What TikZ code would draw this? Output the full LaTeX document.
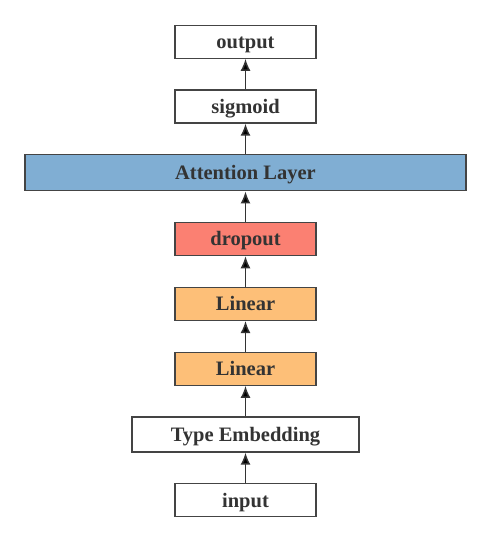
\documentclass[tikz,border=0pt]{standalone}
\usepackage{fontspec}
\setmainfont{Liberation Serif}
\usepackage{tikz}
\usetikzlibrary{matrix,arrows.meta}
\definecolor{txt}{HTML}{333333}
\definecolor{edgegray}{HTML}{444444}
\definecolor{attblue}{HTML}{80AED3}
\definecolor{dropred}{HTML}{FB8072}
\definecolor{linorange}{HTML}{FDBF78}

\begin{document}
\begin{tikzpicture}[x=1pt,y=-1pt,
  layer/.style={draw=edgegray,line width=1.3pt,fill=white,text=txt,
    font=\fontsize{20.5}{22}\selectfont\bfseries,
    text height=18pt,text depth=4.5pt,
    minimum width=141pt,minimum height=33pt,inner sep=0pt},
  up/.style={-{Latex[length=12pt,width=10pt]},draw=txt,line width=1.5pt}]
\useasboundingbox (0,0) rectangle (490,540);
\matrix (m) at (245.5,271) [matrix of nodes,row sep=30.5pt,nodes={layer}]
{ output \\
  sigmoid \\
  |[minimum width=441pt,minimum height=36pt,fill=attblue]| Attention Layer \\
  |[fill=dropred]| dropout \\
  |[fill=linorange]| Linear \\
  |[fill=linorange]| Linear \\
  |[minimum width=227pt,minimum height=35pt]| Type Embedding \\
  input \\
} ;
\path [up]

(m-8-1) edge (m-7-1)
(m-7-1) edge (m-6-1)
(m-6-1) edge (m-5-1)
(m-5-1) edge (m-4-1)
(m-4-1) edge (m-3-1)
(m-3-1) edge (m-2-1)
(m-2-1) edge (m-1-1)

;
\end{tikzpicture}
\end{document}
